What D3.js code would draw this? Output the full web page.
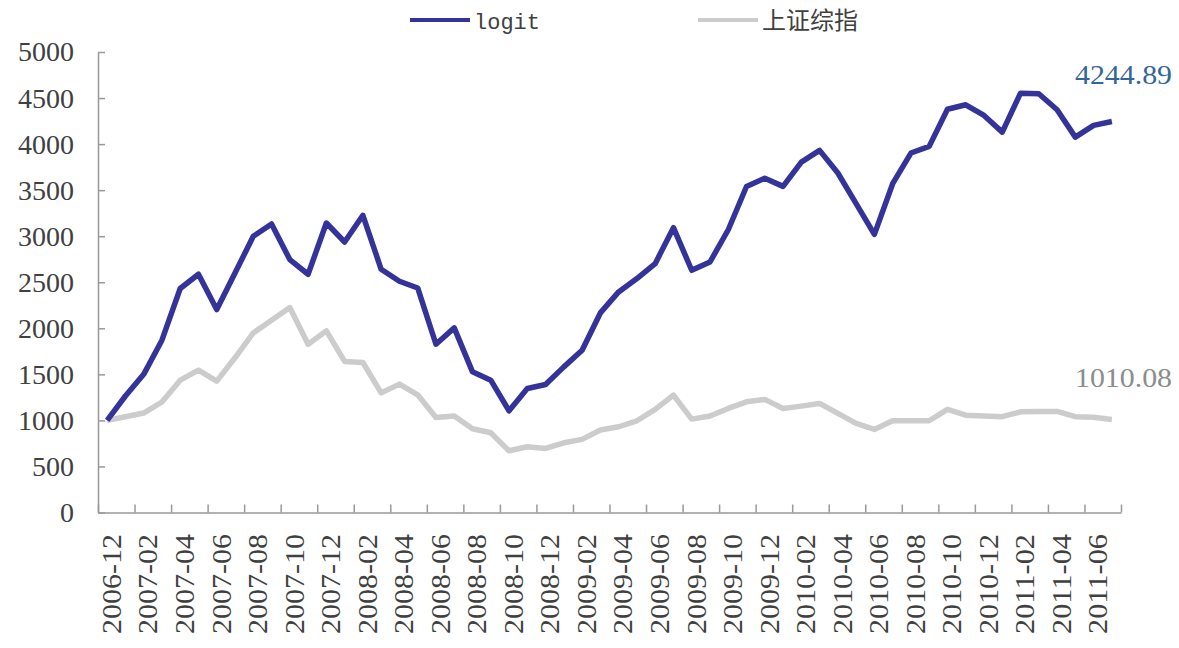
<!DOCTYPE html>
<html><head><meta charset="utf-8">
<script src="https://cdn.jsdelivr.net/npm/d3@7"></script>
<style>
html,body{margin:0;padding:0;background:#fff;}
svg{display:block;}
</style></head>
<body>
<svg id="chart" width="1179" height="648"></svg>
<script>
const months = ["2006-12","2007-01","2007-02","2007-03","2007-04","2007-05","2007-06","2007-07","2007-08","2007-09","2007-10","2007-11",
"2007-12","2008-01","2008-02","2008-03","2008-04","2008-05","2008-06","2008-07","2008-08","2008-09","2008-10","2008-11",
"2008-12","2009-01","2009-02","2009-03","2009-04","2009-05","2009-06","2009-07","2009-08","2009-09","2009-10","2009-11",
"2009-12","2010-01","2010-02","2010-03","2010-04","2010-05","2010-06","2010-07","2010-08","2010-09","2010-10","2010-11",
"2010-12","2011-01","2011-02","2011-03","2011-04","2011-05","2011-06","2011-07"];
const logit = [1000,1265,1500,1871,2432,2587,2204,2600,2999,3133,2746,2587,
3143,2937,3227,2641,2511,2438,1827,2005,1527,1437,1104,1347,
1390,1581,1762,2167,2395,2540,2702,3093,2630,2720,3070,3540,
3630,3541,3805,3932,3686,3354,3020,3570,3903,3975,4378,4427,
4311,4130,4553,4547,4373,4076,4203,4244.89];
const shIndex = [1000,1040,1080,1200,1437,1545,1427,1680,1950,2088,2225,1827,
1972,1640,1629,1299,1394,1278,1032,1047,909,866,670,714,
696,757,794,895,931,996,1119,1274,1014,1047,1130,1202,
1228,1130,1155,1184,1076,967,902,996,996,996,1119,1057,
1047,1040,1093,1097,1097,1040,1035,1010.08];
const yTicks = [0,500,1000,1500,2000,2500,3000,3500,4000,4500,5000];
const seriesNames = ["logit","上证综指"];
const colors = ["#333399","#cccccc"];

const svg = d3.select("#chart");
const L = 98, R = 1121, T = 52, B = 512.5;
const x = d3.scalePoint().domain(months).range([L, R]).padding(0.5);
const xb = d3.scaleLinear().domain([0, months.length]).range([L, R]);
const y = d3.scaleLinear().domain([0, 5000]).range([B, T]);
const axisColor = "#999999";
const textColor = "#404040";
const serif = "'Liberation Serif','DejaVu Serif',serif";

// Y axis
const ya = svg.append("g").attr("transform", `translate(${L},0)`)
  .call(d3.axisLeft(y).tickValues(yTicks).tickFormat(d3.format("d")).tickSizeInner(-7).tickSizeOuter(0).tickPadding(24));
ya.select(".domain").attr("stroke", axisColor).attr("stroke-width", 1.5);
ya.selectAll(".tick line").attr("stroke", axisColor).attr("stroke-width", 1.5);
ya.selectAll(".tick text").attr("fill", textColor)
  .style("font-family", serif).style("font-size", "28px")
  .attr("textLength", d => String(d).length * 14).attr("lengthAdjust", "spacingAndGlyphs");

// X axis (ticks at boundaries)
const xa = svg.append("g").attr("transform", `translate(0,${B})`)
  .call(d3.axisBottom(xb).tickValues(d3.range(0, months.length + 1, 2)).tickSizeInner(-8).tickSizeOuter(0).tickFormat(""));
xa.select(".domain").attr("stroke", axisColor).attr("stroke-width", 1.5);
xa.selectAll(".tick line").attr("stroke", axisColor).attr("stroke-width", 1.5);

// X labels
svg.append("g").selectAll("text")
  .data(months.filter((d, i) => i % 2 === 0))
  .join("text")
  .attr("transform", d => `translate(${x(d) + 4},534) rotate(-90)`)
  .attr("text-anchor", "end")
  .attr("dy", "0.35em")
  .attr("fill", textColor)
  .style("font-family", serif)
  .style("font-size", "28px")
  .attr("textLength", 100).attr("lengthAdjust", "spacingAndGlyphs")
  .text(d => d);

// Lines
const line = d3.line().x((d, i) => x(months[i])).y(d => y(d));
svg.append("path").datum(shIndex).attr("d", line)
  .attr("fill", "none").attr("stroke", colors[1]).attr("stroke-width", 5.5).attr("stroke-linejoin", "round");
svg.append("path").datum(logit).attr("d", line)
  .attr("fill", "none").attr("stroke", colors[0]).attr("stroke-width", 5.5).attr("stroke-linejoin", "round");

// End labels
svg.append("text").attr("x", 1075).attr("y", 84)
  .attr("fill", "#336699").style("font-family", serif).style("font-size", "28px")
  .attr("textLength", 97).attr("lengthAdjust", "spacingAndGlyphs")
  .text(d3.format(".2f")(logit[logit.length - 1]));
svg.append("text").attr("x", 1075).attr("y", 387)
  .attr("fill", "#8c8c8c").style("font-family", serif).style("font-size", "28px")
  .attr("textLength", 97).attr("lengthAdjust", "spacingAndGlyphs")
  .text(d3.format(".2f")(shIndex[shIndex.length - 1]));

// Legend
const legend = [
  {name: seriesNames[0], color: colors[0], x: 410, font: "'Liberation Mono','DejaVu Sans Mono',monospace", size: 22},
  {name: seriesNames[1], color: colors[1], x: 698, font: "'Noto Sans CJK SC',sans-serif", size: 24}
];
const lg = svg.append("g").selectAll("g").data(legend).join("g");
lg.append("line").attr("x1", d => d.x).attr("x2", d => d.x + 60).attr("y1", 20).attr("y2", 20)
  .attr("stroke", d => d.color).attr("stroke-width", 4);
lg.append("text").attr("x", d => d.x + 64).attr("y", 29)
  .attr("fill", textColor).style("font-family", d => d.font).style("font-size", d => d.size + "px")
  .text(d => d.name);
</script>
</body></html>
